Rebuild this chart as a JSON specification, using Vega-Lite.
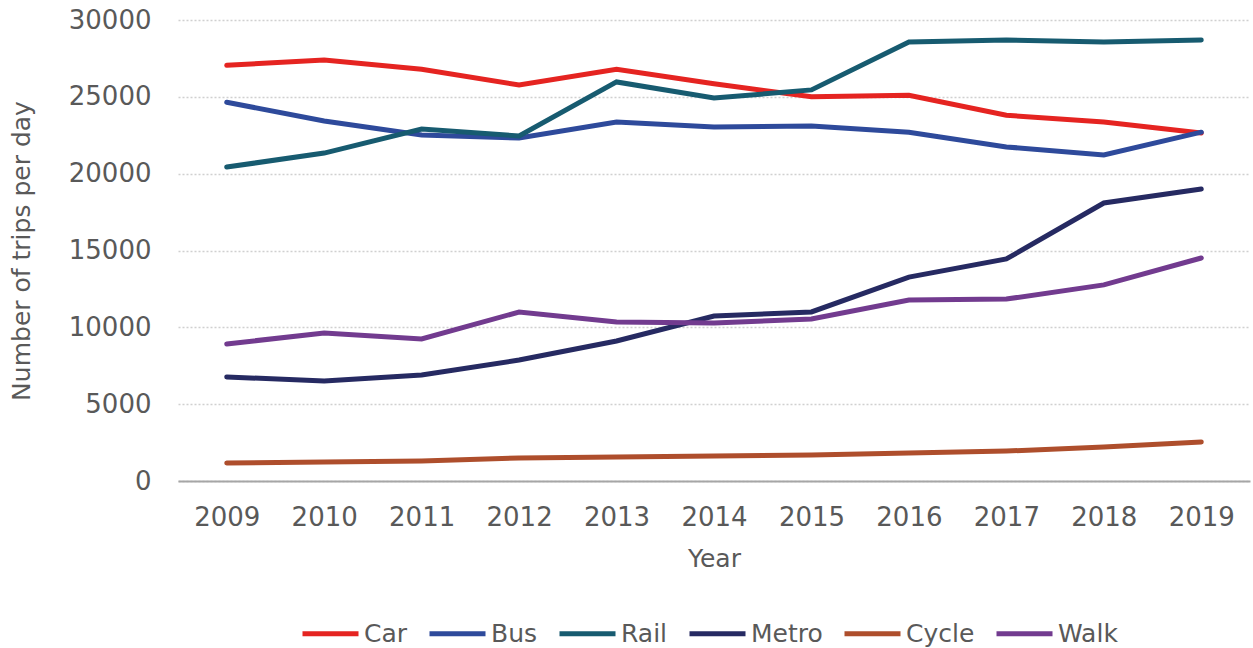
{
  "$schema": "https://vega.github.io/schema/vega-lite/v6.json",
  "autosize": {"type": "none"},
  "padding": {"left": 178, "top": 20, "right": 3, "bottom": 167},
  "width": 1072,
  "height": 461,
  "background": "white",
  "config": {
    "view": {"stroke": null},
    "font": "DejaVu Sans",
    "axis": {"labelFont": "DejaVu Sans", "titleFont": "DejaVu Sans", "labelColor": "#595959", "titleColor": "#595959", "labelFontSize": 26, "titleFontSize": 25, "titleFontWeight": "normal", "ticks": false},
    "legend": {"labelFont": "DejaVu Sans", "labelColor": "#595959", "labelFontSize": 25}
  },
  "data": {
    "values": [
      {"year": "2009", "mode": "Car", "trips": 27050},
      {"year": "2010", "mode": "Car", "trips": 27400},
      {"year": "2011", "mode": "Car", "trips": 26800},
      {"year": "2012", "mode": "Car", "trips": 25770},
      {"year": "2013", "mode": "Car", "trips": 26800},
      {"year": "2014", "mode": "Car", "trips": 25850},
      {"year": "2015", "mode": "Car", "trips": 25000},
      {"year": "2016", "mode": "Car", "trips": 25100},
      {"year": "2017", "mode": "Car", "trips": 23800},
      {"year": "2018", "mode": "Car", "trips": 23360},
      {"year": "2019", "mode": "Car", "trips": 22650},
      {"year": "2009", "mode": "Bus", "trips": 24650},
      {"year": "2010", "mode": "Bus", "trips": 23430},
      {"year": "2011", "mode": "Bus", "trips": 22520},
      {"year": "2012", "mode": "Bus", "trips": 22320},
      {"year": "2013", "mode": "Bus", "trips": 23360},
      {"year": "2014", "mode": "Bus", "trips": 23040},
      {"year": "2015", "mode": "Bus", "trips": 23100},
      {"year": "2016", "mode": "Bus", "trips": 22700},
      {"year": "2017", "mode": "Bus", "trips": 21740},
      {"year": "2018", "mode": "Bus", "trips": 21220},
      {"year": "2019", "mode": "Bus", "trips": 22700},
      {"year": "2009", "mode": "Rail", "trips": 20430},
      {"year": "2010", "mode": "Rail", "trips": 21340},
      {"year": "2011", "mode": "Rail", "trips": 22910},
      {"year": "2012", "mode": "Rail", "trips": 22450},
      {"year": "2013", "mode": "Rail", "trips": 25970},
      {"year": "2014", "mode": "Rail", "trips": 24920},
      {"year": "2015", "mode": "Rail", "trips": 25450},
      {"year": "2016", "mode": "Rail", "trips": 28570},
      {"year": "2017", "mode": "Rail", "trips": 28700},
      {"year": "2018", "mode": "Rail", "trips": 28570},
      {"year": "2019", "mode": "Rail", "trips": 28700},
      {"year": "2009", "mode": "Metro", "trips": 6770},
      {"year": "2010", "mode": "Metro", "trips": 6510},
      {"year": "2011", "mode": "Metro", "trips": 6900},
      {"year": "2012", "mode": "Metro", "trips": 7870},
      {"year": "2013", "mode": "Metro", "trips": 9110},
      {"year": "2014", "mode": "Metro", "trips": 10740},
      {"year": "2015", "mode": "Metro", "trips": 11000},
      {"year": "2016", "mode": "Metro", "trips": 13270},
      {"year": "2017", "mode": "Metro", "trips": 14450},
      {"year": "2018", "mode": "Metro", "trips": 18090},
      {"year": "2019", "mode": "Metro", "trips": 19000},
      {"year": "2009", "mode": "Cycle", "trips": 1170},
      {"year": "2010", "mode": "Cycle", "trips": 1230},
      {"year": "2011", "mode": "Cycle", "trips": 1300},
      {"year": "2012", "mode": "Cycle", "trips": 1500},
      {"year": "2013", "mode": "Cycle", "trips": 1560},
      {"year": "2014", "mode": "Cycle", "trips": 1630},
      {"year": "2015", "mode": "Cycle", "trips": 1690},
      {"year": "2016", "mode": "Cycle", "trips": 1820},
      {"year": "2017", "mode": "Cycle", "trips": 1950},
      {"year": "2018", "mode": "Cycle", "trips": 2210},
      {"year": "2019", "mode": "Cycle", "trips": 2540},
      {"year": "2009", "mode": "Walk", "trips": 8920},
      {"year": "2010", "mode": "Walk", "trips": 9630},
      {"year": "2011", "mode": "Walk", "trips": 9240},
      {"year": "2012", "mode": "Walk", "trips": 11000},
      {"year": "2013", "mode": "Walk", "trips": 10350},
      {"year": "2014", "mode": "Walk", "trips": 10280},
      {"year": "2015", "mode": "Walk", "trips": 10540},
      {"year": "2016", "mode": "Walk", "trips": 11780},
      {"year": "2017", "mode": "Walk", "trips": 11840},
      {"year": "2018", "mode": "Walk", "trips": 12760},
      {"year": "2019", "mode": "Walk", "trips": 14510}
    ]
  },
  "mark": {"type": "line", "strokeWidth": 5, "strokeCap": "round", "strokeJoin": "miter"},
  "encoding": {
    "x": {
      "field": "year", "type": "ordinal",
      "scale": {"type": "point", "padding": 0.5},
      "axis": {"title": "Year", "labelAngle": 0, "labelPadding": 23, "titlePadding": 16, "domainColor": "#a6a6a6", "domainWidth": 2, "grid": false}
    },
    "y": {
      "field": "trips", "type": "quantitative",
      "scale": {"domain": [0, 30000], "nice": false},
      "axis": {"title": "Number of trips per day", "values": [0, 5000, 10000, 15000, 20000, 25000, 30000], "format": "d", "labelPadding": 27, "titlePadding": 34, "domain": false, "grid": true, "gridColor": "#d0d0d0", "gridDash": [2, 2], "gridWidth": 1.5}
    },
    "color": {
      "field": "mode", "type": "nominal",
      "scale": {"domain": ["Car", "Bus", "Rail", "Metro", "Cycle", "Walk"], "range": ["#e52421", "#2e4a9b", "#175b70", "#262a62", "#ae4e2c", "#723b8f"]},
      "legend": {"title": null, "orient": "none", "legendX": 122, "legendY": 583, "direction": "horizontal", "symbolType": "stroke", "symbolSize": 3136, "symbolStrokeWidth": 5, "labelOffset": 3, "columnPadding": 11}
    }
  }
}
